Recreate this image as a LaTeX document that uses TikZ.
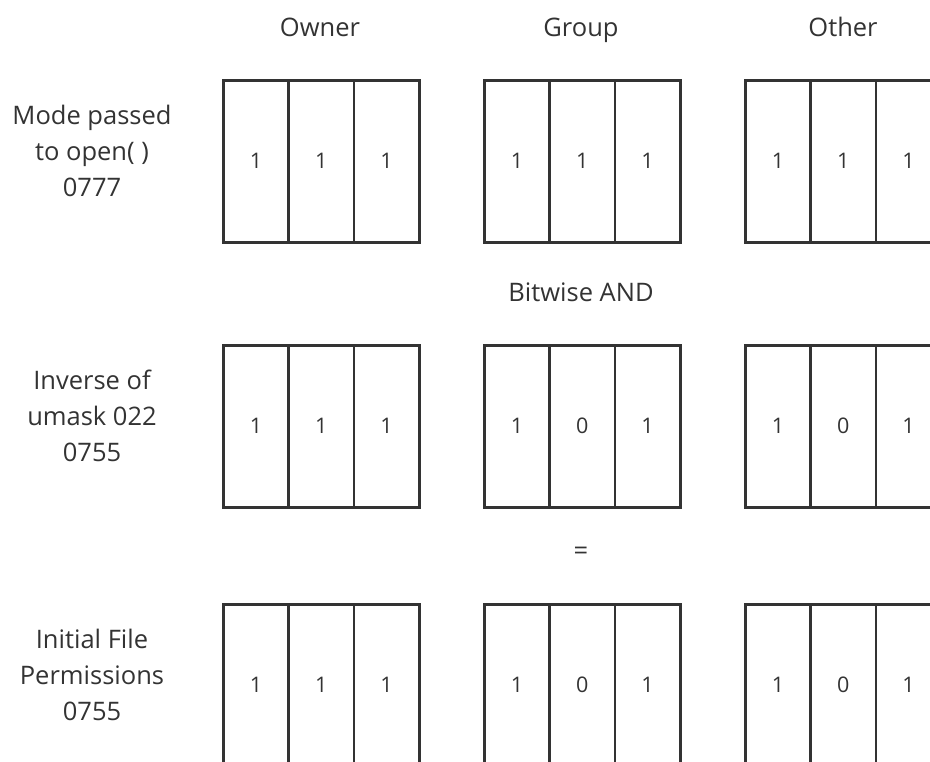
\documentclass[tikz,border=0pt]{standalone}
\usepackage{fontspec}
\setmainfont{Open Sans}
\definecolor{ink}{HTML}{333333}
\tikzset{
  cell/.style={draw=ink, line width=2.6pt, minimum width=65.3pt, minimum height=162pt,
    inner sep=0pt, text=ink, font=\fontsize{21.5}{26}\selectfont, anchor=north west},
  lbl/.style={text=ink, font=\fontsize{25.5}{36}\selectfont, align=center, inner sep=0pt},
  head/.style={lbl, anchor=base}
}
\begin{document}
\begin{tikzpicture}[x=1pt,y=-1pt]
\useasboundingbox (0,0) rectangle (930,762);
\clip (0,0) rectangle (930,762);
% column headings
\node[head] (hown) at (320,37) {Owner};
\node[head] (hgrp) at (581,37) {Group};
\node[head] (hoth) at (843,37) {Other};
% row labels
\node[lbl] (l1) at (92,151) {Mode passed\\to open( )\\0777};
\node[lbl] (l2) at (92,416) {Inverse of\\umask 022\\0755};
\node[lbl] (l3) at (92,675) {Initial File\\Permissions\\0755};
% operators
\node[head] (op1) at (581,302) {Bitwise AND};
\node[lbl] (op2) at (581,553) {=};
% cells
\foreach \r/\t/\g/\L/\x/\y/\z in {
  1/79/1/222/1/1/1, 1/79/2/483/1/1/1, 1/79/3/744/1/1/1,
  2/344/1/222/1/1/1, 2/344/2/483/1/0/1, 2/344/3/744/1/0/1,
  3/603/1/222/1/1/1, 3/603/2/483/1/0/1, 3/603/3/744/1/0/1}{
  \node[cell] (c\r\g a) at (\L,\t) {\x};
  \node[cell] (c\r\g b) at (\L+65.3,\t) {\y};
  \node[cell] (c\r\g c) at (\L+130.6,\t) {\z};
}
\end{tikzpicture}
\end{document}
